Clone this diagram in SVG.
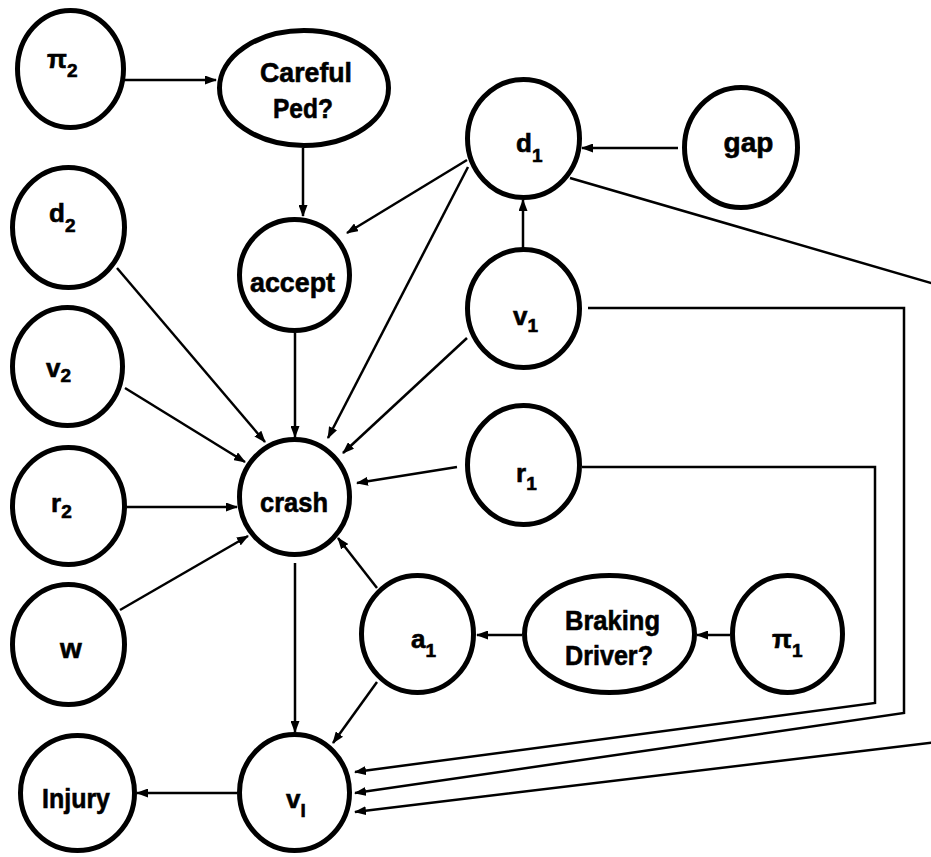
<svg xmlns="http://www.w3.org/2000/svg" width="931" height="857" viewBox="0 0 931 857">
  <style>
    .node { fill: #fff; stroke: #000; stroke-width: 5; }
    .edge { fill: none; stroke: #000; stroke-width: 2.5; marker-end: url(#arrow); }
    .lbl { font-family: "Liberation Sans", Arial, sans-serif; font-weight: bold; fill: #000; stroke: #000; stroke-width: 0.6; }
    .word { font-size: 28px; text-anchor: middle; }
    .sym { font-size: 26px; }
    .sub { font-size: 19px; }
  </style>
  <defs>
    <marker id="arrow" markerUnits="userSpaceOnUse" markerWidth="12" markerHeight="9" refX="11" refY="4.5" orient="auto">
      <path d="M0,0 L12,4.5 L0,9 z" fill="#000"/>
    </marker>
  </defs>

  <rect width="931" height="857" fill="#fff"/>

  <g id="connectors">
    <line class="edge" x1="125" y1="80" x2="216" y2="80"/>
    <line class="edge" x1="303" y1="148" x2="303" y2="216"/>
    <line class="edge" x1="678" y1="148" x2="582" y2="148"/>
    <line class="edge" x1="523" y1="248" x2="523" y2="200"/>
    <line class="edge" x1="467" y1="160" x2="347" y2="233"/>
    <line class="edge" x1="468" y1="167" x2="328" y2="438"/>
    <line class="edge" x1="467" y1="338" x2="343" y2="453"/>
    <line class="edge" x1="117" y1="268" x2="265" y2="442"/>
    <line class="edge" x1="125" y1="388" x2="245" y2="462"/>
    <line class="edge" x1="127" y1="507" x2="237" y2="507"/>
    <line class="edge" x1="120" y1="610" x2="248" y2="536"/>
    <line class="edge" x1="295" y1="333" x2="295" y2="437"/>
    <line class="edge" x1="457" y1="467" x2="357" y2="483"/>
    <line class="edge" x1="377" y1="588" x2="338" y2="538"/>
    <line class="edge" x1="295" y1="563" x2="295" y2="732"/>
    <line class="edge" x1="377" y1="682" x2="333" y2="743"/>
    <line class="edge" x1="522" y1="635" x2="477" y2="635"/>
    <line class="edge" x1="730" y1="635" x2="697" y2="635"/>
    <line class="edge" x1="237" y1="793" x2="137" y2="793"/>
    <polyline class="edge" points="582,467 875,467 875,703 355,772"/>
    <polyline class="edge" points="588,308 904,308 904,713 355,793"/>
    <polyline class="edge" points="570,178 945,287 945,741 355,812"/>
  </g>

  <g id="pi2">
    <ellipse class="node" cx="70.5" cy="69" rx="53" ry="58.5"/>
    <text class="lbl sym" x="47" y="68">π<tspan class="sub" dy="9">2</tspan></text>
  </g>
  <g id="careful-ped">
    <ellipse class="node" cx="304" cy="88" rx="84.5" ry="57.5"/>
    <text class="lbl word" x="306" y="82" textLength="92" lengthAdjust="spacingAndGlyphs">Careful</text>
    <text class="lbl word" x="303" y="118" textLength="60" lengthAdjust="spacingAndGlyphs">Ped?</text>
  </g>
  <g id="d1">
    <ellipse class="node" cx="523.5" cy="138.5" rx="56" ry="59"/>
    <text class="lbl sym" x="516" y="152">d<tspan class="sub" dy="10">1</tspan></text>
  </g>
  <g id="gap">
    <ellipse class="node" cx="741" cy="147.5" rx="56.5" ry="60"/>
    <text class="lbl word" x="748.5" y="152">gap</text>
  </g>
  <g id="d2">
    <ellipse class="node" cx="68.5" cy="227.5" rx="56" ry="60"/>
    <text class="lbl sym" x="49" y="222">d<tspan class="sub" dy="10">2</tspan></text>
  </g>
  <g id="accept">
    <ellipse class="node" cx="294.5" cy="275" rx="55" ry="55.5"/>
    <text class="lbl word" x="292.5" y="292" textLength="85" lengthAdjust="spacingAndGlyphs">accept</text>
  </g>
  <g id="v1">
    <ellipse class="node" cx="523.5" cy="308.5" rx="56" ry="59"/>
    <text class="lbl sym" x="513" y="325">v<tspan class="sub" dy="7">1</tspan></text>
  </g>
  <g id="v2">
    <ellipse class="node" cx="67.5" cy="366.5" rx="55" ry="59"/>
    <text class="lbl sym" x="46" y="377">v<tspan class="sub" dy="5">2</tspan></text>
  </g>
  <g id="r1">
    <ellipse class="node" cx="523.5" cy="465" rx="56" ry="59.5"/>
    <text class="lbl sym" x="516" y="482">r<tspan class="sub" dy="8">1</tspan></text>
  </g>
  <g id="crash">
    <ellipse class="node" cx="294.5" cy="497" rx="55" ry="57.5"/>
    <text class="lbl word" x="294" y="512" textLength="68" lengthAdjust="spacingAndGlyphs">crash</text>
  </g>
  <g id="r2">
    <ellipse class="node" cx="68.5" cy="506" rx="56" ry="58.5"/>
    <text class="lbl sym" x="51" y="512">r<tspan class="sub" dy="6">2</tspan></text>
  </g>
  <g id="w">
    <ellipse class="node" cx="68.5" cy="644.5" rx="56" ry="60"/>
    <text class="lbl word" x="71" y="658">w</text>
  </g>
  <g id="a1">
    <ellipse class="node" cx="417.5" cy="634" rx="56" ry="58.5"/>
    <text class="lbl sym" x="411" y="648">a<tspan class="sub" dy="9">1</tspan></text>
  </g>
  <g id="braking-driver">
    <ellipse class="node" cx="609.5" cy="634" rx="85" ry="58.5"/>
    <text class="lbl word" x="612.5" y="630" textLength="95" lengthAdjust="spacingAndGlyphs">Braking</text>
    <text class="lbl word" x="609" y="665" textLength="88" lengthAdjust="spacingAndGlyphs">Driver?</text>
  </g>
  <g id="pi1">
    <ellipse class="node" cx="787.5" cy="634" rx="55" ry="58.5"/>
    <text class="lbl sym" x="772" y="648">π<tspan class="sub" dy="9">1</tspan></text>
  </g>
  <g id="injury">
    <ellipse class="node" cx="77.5" cy="793" rx="57" ry="57.5"/>
    <text class="lbl word" x="76" y="808" textLength="68" lengthAdjust="spacingAndGlyphs">Injury</text>
  </g>
  <g id="vI">
    <ellipse class="node" cx="294.5" cy="792.5" rx="55" ry="58"/>
    <text class="lbl sym" x="286" y="808">v<tspan class="sub" dy="9">I</tspan></text>
  </g>
</svg>
